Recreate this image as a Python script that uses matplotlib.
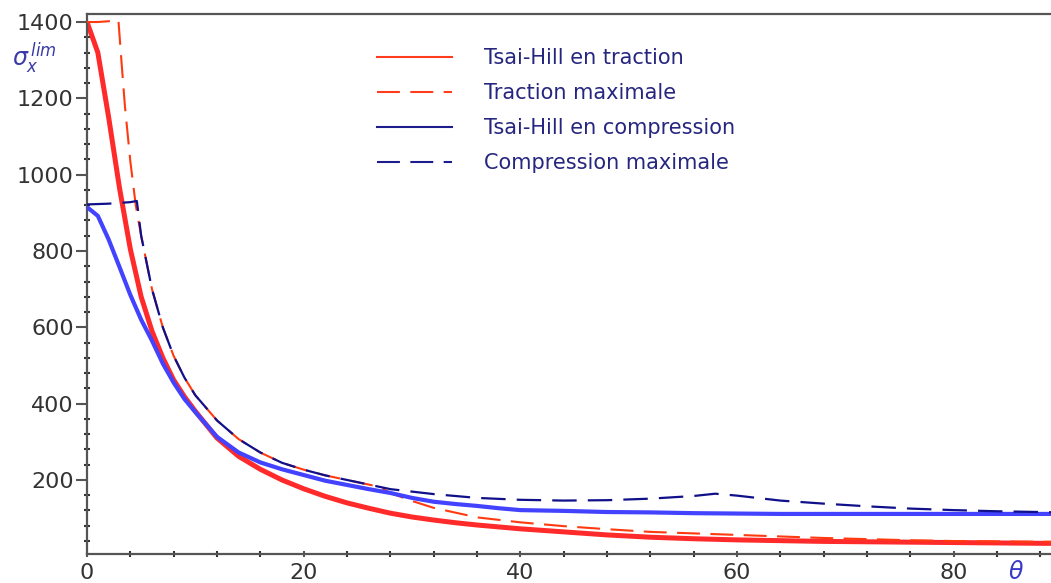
import matplotlib
matplotlib.use('Agg')
import matplotlib.pyplot as plt
from matplotlib.lines import Line2D
from matplotlib.ticker import MultipleLocator

# angle theta (deg) and limit stress sigma_x^lim
theta_th_t = [0, 1, 2, 3, 4, 5, 6, 7, 8, 9, 10, 12, 14, 16, 18, 20, 22, 24, 26, 28,
              30, 32, 34, 36, 38, 40, 44, 48, 52, 56, 60, 64, 68, 72, 76, 80, 84, 88, 90]
sig_th_t = [1400, 1320, 1150, 965, 805, 680, 590, 520, 462, 418, 380, 310, 262, 228, 200,
            177, 157, 140, 126, 113, 103, 95, 88, 82, 77, 72, 64, 56, 50, 46, 43, 41, 39,
            38, 37, 36, 35, 34, 34]

theta_max_t = [0, 1, 2, 2.9, 3.2, 3.5, 4, 4.5, 5, 6, 7, 8, 9, 10, 12, 14, 16, 18, 20, 22,
               24, 26, 27, 28, 30, 32, 36, 40, 44, 48, 52, 56, 60, 64, 68, 72, 76, 80, 84,
               88, 90]
sig_max_t = [1400, 1400, 1402, 1405, 1290, 1180, 1035, 920, 840, 700, 600, 525, 468, 422,
             356, 307, 272, 245, 227, 212, 200, 188, 182, 166, 145, 127, 102, 89, 79, 71,
             64, 60, 56, 52, 48, 45, 42, 40, 39, 38, 38]

theta_th_c = theta_th_t
sig_th_c = [915, 892, 830, 758, 685, 620, 565, 505, 455, 412, 378, 313, 272, 246, 228, 213,
            198, 187, 176, 166, 153, 143, 137, 132, 126, 121, 119, 116, 115, 113, 112, 111,
            111, 111, 111, 111, 111, 111, 111]

theta_max_c = [0, 2, 4, 4.6, 5, 5.5, 6, 7, 8, 9, 10, 12, 14, 16, 18, 20, 22, 24, 26, 28,
               32, 36, 40, 44, 48, 52, 56, 58, 60, 64, 68, 72, 76, 80, 84, 88, 90]
sig_max_c = [922, 924, 928, 931, 840, 770, 700, 600, 525, 468, 422, 356, 307, 272, 245, 227,
             212, 200, 188, 176, 163, 153, 148, 146, 147, 151, 158, 164, 159, 146, 138, 131,
             125, 121, 118, 116, 115]

labels = ['Tsai-Hill en traction', 'Traction maximale',
          'Tsai-Hill en compression', 'Compression maximale']

plt.rcParams['font.family'] = ['DejaVu Sans']

fig = plt.figure(figsize=(10.51, 5.83), dpi=100)
ax = fig.add_axes([87 / 1051, 29 / 583, 1 - 87 / 1051, 540 / 583])

ax.plot(theta_th_t, sig_th_t, color='#ff2a2a', lw=3.6, solid_capstyle='butt', zorder=2)
ax.plot(theta_max_t, sig_max_t, color='#ff3a10', lw=1.5, dashes=(11, 5), zorder=3)
ax.plot(theta_th_c, sig_th_c, color='#4242ff', lw=3.0, solid_capstyle='butt', zorder=4)
ax.plot(theta_max_c, sig_max_c, color='#10108a', lw=1.6, dashes=(11, 5), zorder=5)

ax.set_xlim(0, 89.0)
ax.set_ylim(6, 1421)

ax.xaxis.set_major_locator(MultipleLocator(20))
ax.xaxis.set_minor_locator(MultipleLocator(4))
ax.yaxis.set_major_locator(MultipleLocator(200))
ax.yaxis.set_minor_locator(MultipleLocator(40))
ax.set_yticks([200, 400, 600, 800, 1000, 1200, 1400])

grey = '#555555'
for side in ['left', 'bottom', 'top']:
    ax.spines[side].set_color(grey)
    ax.spines[side].set_linewidth(1.6)
ax.spines['right'].set_visible(False)

ax.tick_params(axis='y', which='major', direction='out', length=8, width=1.5,
               color=grey, pad=1.5, labelsize=16, labelcolor='#333333')
ax.tick_params(axis='y', which='minor', direction='inout', length=4, width=1.5, color='#333333')
ax.tick_params(axis='x', which='major', direction='inout', length=5, width=1.5,
               color=grey, pad=4, labelsize=16, labelcolor='#333333')
ax.tick_params(axis='x', which='minor', direction='inout', length=4, width=1.5, color='#333333')

handles = [
    Line2D([], [], color='#ff3c1e', lw=1.5),
    Line2D([], [], color='#ff3c1e', lw=1.5, dashes=(11, 5)),
    Line2D([], [], color='#1c1c8c', lw=1.5),
    Line2D([], [], color='#1c1c8c', lw=1.5, dashes=(11, 5)),
]
leg = ax.legend(handles, labels, loc='upper left', bbox_to_anchor=(377 / 1051, 1 - 48 / 583),
                bbox_transform=fig.transFigure, frameon=False, borderpad=0, borderaxespad=0,
                handlelength=3.6, handletextpad=1.54, labelspacing=0.72, fontsize=15)
for t in leg.get_texts():
    t.set_color('#262680')

fig.text(12 / 1051, 1 - 66 / 583, r'$\sigma_x^{\,lim}$', fontsize=17, color='#3a3aa8',
         ha='left', va='baseline')
fig.text(1008 / 1051, 1 - 579 / 583, r'$\theta$', fontsize=17, color='#3a3ac8',
         ha='left', va='baseline')

fig.savefig('out.png', dpi=100)
